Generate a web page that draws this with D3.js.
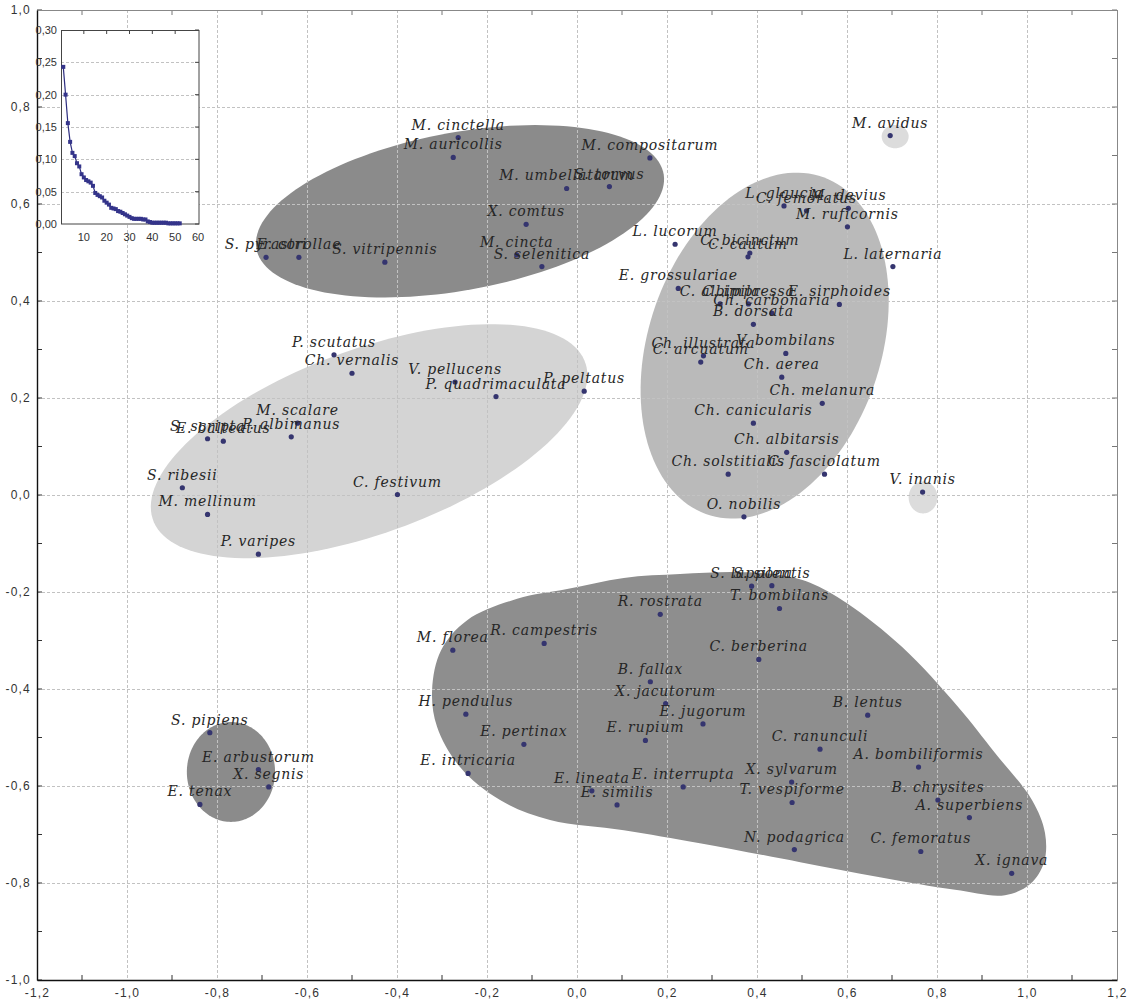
<!DOCTYPE html>
<html>
<head>
<meta charset="utf-8">
<script src="https://cdn.jsdelivr.net/npm/d3@7"></script>
<style>
  body { margin: 0; background: #fff; }
  svg { display: block; }
  .sp { font-family: "DejaVu Serif", serif; font-style: italic; font-size: 14px; letter-spacing: 0.8px; fill: #262626; }
  .ax text { font-family: "Liberation Sans", Arial, sans-serif; font-size: 12px; letter-spacing: 1.2px; fill: #333; }
  .inset text { font-family: "Liberation Sans", Arial, sans-serif; font-size: 11px; fill: #333; }
</style>
</head>
<body>
<svg id="chart" width="1131" height="1002"></svg>
<script>
// ---- species scores on the two ordination axes ----
const speciesNames = [
  "M. cinctella","M. auricollis","M. compositarum","S. torvus","M. umbellatarum","X. comtus",
  "M. cincta","S. selenitica","S. vitripennis","S. pyrastri","E. corollae",
  "P. scutatus","Ch. vernalis","V. pellucens","P. quadrimaculata","P. peltatus","M. scalare",
  "P. albimanus","S. scripta","E. balteatus","S. ribesii","M. mellinum","P. varipes","C. festivum",
  "L. lucorum","L. glaucia","C. femoratus","M. devius","M. ruficornis","L. laternaria",
  "C. bicinctum","C. cautum","E. grossulariae","C. albipila","C. impressa","Ch. carbonaria",
  "B. dorsata","E. sirphoides","V. bombilans","Ch. illustrata","C. arcuatum","Ch. aerea",
  "Ch. melanura","Ch. canicularis","Ch. albitarsis","Ch. solstitialis","C. fasciolatum","O. nobilis",
  "M. avidus","V. inanis",
  "S. pipiens","E. arbustorum","X. segnis","E. tenax",
  "S. lappona","S. silentis","T. bombilans","R. rostrata","M. florea","R. campestris",
  "C. berberina","B. fallax","X. jacutorum","H. pendulus","E. jugorum","B. lentus",
  "E. rupium","E. pertinax","C. ranunculi","A. bombiliformis","E. intricaria","X. sylvarum",
  "E. interrupta","E. lineata","T. vespiforme","E. similis","B. chrysites","A. superbiens",
  "N. podagrica","C. femoratus","X. ignava"
];
const scoreAxis1 = [
  -0.264,-0.275,0.162,0.072,-0.023,-0.113,
  -0.134,-0.078,-0.427,-0.691,-0.618,
  -0.540,-0.500,-0.271,-0.180,0.016,-0.621,
  -0.635,-0.821,-0.786,-0.877,-0.821,-0.708,-0.399,
  0.218,0.460,0.510,0.603,0.601,0.702,
  0.384,0.380,0.225,0.318,0.381,0.433,
  0.392,0.583,0.464,0.281,0.275,0.455,
  0.545,0.392,0.466,0.336,0.550,0.371,
  0.696,0.768,
  -0.816,-0.708,-0.685,-0.838,
  0.388,0.433,0.450,0.185,-0.276,-0.073,
  0.404,0.163,0.197,-0.247,0.280,0.646,
  0.152,-0.118,0.540,0.759,-0.242,0.477,
  0.236,0.033,0.478,0.089,0.802,0.872,
  0.483,0.764,0.966
];
const scoreAxis2 = [
  0.737,0.696,0.695,0.636,0.632,0.558,
  0.495,0.471,0.480,0.490,0.490,
  0.289,0.251,0.233,0.203,0.214,0.148,
  0.120,0.116,0.111,0.015,-0.040,-0.122,0.001,
  0.517,0.596,0.586,0.591,0.553,0.471,
  0.499,0.491,0.426,0.394,0.394,0.375,
  0.352,0.393,0.292,0.287,0.274,0.243,
  0.189,0.148,0.088,0.043,0.043,-0.045,
  0.741,0.006,
  -0.490,-0.566,-0.602,-0.638,
  -0.188,-0.187,-0.234,-0.246,-0.320,-0.306,
  -0.339,-0.385,-0.430,-0.452,-0.472,-0.454,
  -0.506,-0.514,-0.524,-0.561,-0.574,-0.592,
  -0.602,-0.610,-0.634,-0.639,-0.629,-0.665,
  -0.731,-0.735,-0.780
];

// ---- group envelopes (data units) ----
const ellipseCx    = [-0.260, -0.462, 0.417, -0.769, 0.707, 0.769];
const ellipseCy    = [ 0.585,  0.111, 0.308, -0.571, 0.739, -0.005];
const ellipseRa    = [ 0.459,  0.507, 0.371,  0.098, 0.030, 0.032];
const ellipseRb    = [ 0.163,  0.191, 0.256,  0.103, 0.024, 0.033];
const ellipseAngle = [ 9.5,   18.3,  67.6,   0,     0,     0];

// outline of the large lower group
const hullX = [-0.322,-0.302,-0.244,-0.133,-0.022,0.104,0.229,0.353,0.451,0.518,0.600,0.722,0.847,0.929,1.011,1.040,1.038,1.007,0.951,0.840,0.673,0.496,0.273,0.104,-0.060,-0.171,-0.260,-0.311];
const hullY = [-0.402,-0.320,-0.258,-0.214,-0.194,-0.171,-0.163,-0.159,-0.165,-0.181,-0.223,-0.313,-0.437,-0.532,-0.629,-0.697,-0.757,-0.802,-0.825,-0.814,-0.788,-0.757,-0.718,-0.691,-0.670,-0.629,-0.561,-0.478];

// ---- eigenvalue scree (inset) ----
const eigenvalues = [0.243,0.200,0.156,0.127,0.110,0.105,0.094,0.089,0.077,0.072,0.068,0.066,0.064,0.059,0.048,0.045,0.043,0.041,0.036,0.033,0.030,0.025,0.024,0.023,0.020,0.019,0.017,0.015,0.013,0.011,0.009,0.008,0.008,0.008,0.008,0.007,0.007,0.004,0.003,0.002,0.002,0.002,0.002,0.002,0.002,0.002,0.001,0.001,0.001,0.001,0.001,0.001];

// tick values
const xMajor = [-1.2,-1.0,-0.8,-0.6,-0.4,-0.2,0.0,0.2,0.4,0.6,0.8,1.0,1.2];
const yMajor = [-1.0,-0.8,-0.6,-0.4,-0.2,0.0,0.2,0.4,0.6,0.8,1.0];
const insetXTicks = [10,20,30,40,50,60];
const insetYTicks = [0.00,0.05,0.10,0.15,0.20,0.25,0.30];

// ---------------------------------------------------------------
const svg = d3.select("#chart");
const L = 37, R = 1117, T = 10, B = 980;
const x = d3.scaleLinear().domain([-1.2, 1.2]).range([L, R]);
const y = d3.scaleLinear().domain([-1, 1]).range([B, T]);

const loc = d3.formatLocale({decimal: ",", thousands: " ", grouping: [3], currency: ["", ""], minus: "-"});
const f1 = loc.format(".1f"), f2 = loc.format(".2f");

// envelopes
const envFill = ["#8b8b8b", "#d4d4d4", "#bababa", "#8b8b8b", "#dcdcdc", "#dcdcdc"];
const ellipseLine = d3.line().x(p => x(p[0])).y(p => y(p[1]));
ellipseCx.forEach((cx, i) => {
  const a = ellipseAngle[i] * Math.PI / 180, pts = [];
  for (let k = 0; k < 144; k++) {
    const t = k / 144 * 2 * Math.PI;
    const u = ellipseRa[i] * Math.cos(t), v = ellipseRb[i] * Math.sin(t);
    pts.push([cx + u * Math.cos(a) - v * Math.sin(a), ellipseCy[i] + u * Math.sin(a) + v * Math.cos(a)]);
  }
  svg.append("path").attr("d", ellipseLine(pts) + "Z").attr("fill", envFill[i]);
});
const hull = d3.line().x(p => x(p[0])).y(p => y(p[1])).curve(d3.curveCatmullRomClosed.alpha(0.5));
svg.append("path").attr("d", hull(hullX.map((v, i) => [v, hullY[i]]))).attr("fill", "#8e8e8e");

// grid
const grid = svg.append("g").attr("stroke", "#c2c2c2").attr("stroke-dasharray", "3,2").attr("stroke-width", 1);
xMajor.slice(1, -1).forEach(v => grid.append("line").attr("x1", Math.round(x(v)) + 0.5).attr("x2", Math.round(x(v)) + 0.5).attr("y1", T).attr("y2", B));
yMajor.slice(1, -1).forEach(v => grid.append("line").attr("y1", Math.round(y(v)) + 0.5).attr("y2", Math.round(y(v)) + 0.5).attr("x1", L).attr("x2", R));

// minor ticks (inward) on all four sides
const minorX = d3.range(-11, 12, 2).map(d => d / 10);
const minorY = d3.range(-9, 10, 2).map(d => d / 10);
const tk = svg.append("g").attr("stroke", "#333").attr("stroke-width", 1);
minorX.forEach(v => {
  tk.append("line").attr("x1", x(v)).attr("x2", x(v)).attr("y1", B).attr("y2", B - 5);
  tk.append("line").attr("x1", x(v)).attr("x2", x(v)).attr("y1", T).attr("y2", T + 5).attr("stroke", "#777");
});
minorY.concat(yMajor).forEach(v => {
  tk.append("line").attr("y1", y(v)).attr("y2", y(v)).attr("x1", L).attr("x2", L + 5);
  tk.append("line").attr("y1", y(v)).attr("y2", y(v)).attr("x1", R).attr("x2", R - 5).attr("stroke", "#777");
});

// frame
svg.append("line").attr("x1", L).attr("x2", R).attr("y1", T + 0.5).attr("y2", T + 0.5).attr("stroke", "#888");
svg.append("line").attr("x1", R + 0.5).attr("x2", R + 0.5).attr("y1", T).attr("y2", B).attr("stroke", "#888");

// axes
const xAxis = svg.append("g").attr("class", "ax").attr("transform", `translate(0,${B})`)
  .call(d3.axisBottom(x).tickValues(xMajor).tickFormat(f1).tickSize(0).tickPadding(8));
const yAxis = svg.append("g").attr("class", "ax").attr("transform", `translate(${L},0)`)
  .call(d3.axisLeft(y).tickValues(yMajor).tickFormat(f1).tickSize(0).tickPadding(6));
[xAxis, yAxis].forEach(g => g.select(".domain").attr("stroke", "#111").attr("stroke-width", 1.4));

// species points and labels
const pts = svg.append("g");
speciesNames.forEach((name, i) => {
  const px = x(scoreAxis1[i]), py = y(scoreAxis2[i]);
  pts.append("circle").attr("cx", px).attr("cy", py).attr("r", 2.6).attr("fill", "#35356f");
  pts.append("text").attr("class", "sp").attr("x", px).attr("y", py - 8)
    .attr("text-anchor", "middle").text(name);
});

// ---- inset: eigenvalue scree plot ----
const ix = d3.scaleLinear().domain([0, 60]).range([61, 198]);
const iy = d3.scaleLinear().domain([0, 0.30]).range([224, 30]);
const inset = svg.append("g").attr("class", "inset");
inset.append("rect").attr("x", 61).attr("y", 30).attr("width", 138).attr("height", 194).attr("fill", "#fff");
insetYTicks.slice(1, -1).forEach(v => inset.append("line").attr("x1", 61).attr("x2", 199)
  .attr("y1", Math.round(iy(v)) + 0.5).attr("y2", Math.round(iy(v)) + 0.5)
  .attr("stroke", "#c2c2c2").attr("stroke-dasharray", "3,2"));
insetXTicks.slice(0, -1).forEach(v => inset.append("line").attr("x1", ix(v)).attr("x2", ix(v))
  .attr("y1", 30).attr("y2", 34).attr("stroke", "#444"));
insetYTicks.forEach(v => inset.append("line").attr("x1", 199).attr("x2", 195)
  .attr("y1", iy(v)).attr("y2", iy(v)).attr("stroke", "#444"));
inset.append("rect").attr("x", 61.5).attr("y", 30.5).attr("width", 137.5).attr("height", 193.5)
  .attr("fill", "none").attr("stroke", "#444");
const scree = d3.line().x((d, i) => ix(i + 1)).y(d => iy(d));
inset.append("path").attr("d", scree(eigenvalues)).attr("fill", "none").attr("stroke", "#2e2e80").attr("stroke-width", 1.2);
eigenvalues.forEach((d, i) => inset.append("rect").attr("x", ix(i + 1) - 2).attr("y", iy(d) - 2)
  .attr("width", 4).attr("height", 4).attr("fill", "#34348a"));
insetYTicks.forEach(v => inset.append("text").attr("x", 57).attr("y", iy(v)).attr("dy", "0.35em")
  .attr("text-anchor", "end").text(f2(v)));
insetXTicks.forEach(v => inset.append("text").attr("x", ix(v)).attr("y", 237)
  .attr("dy", "0.35em").attr("text-anchor", "middle").text(v));
</script>
</body>
</html>
